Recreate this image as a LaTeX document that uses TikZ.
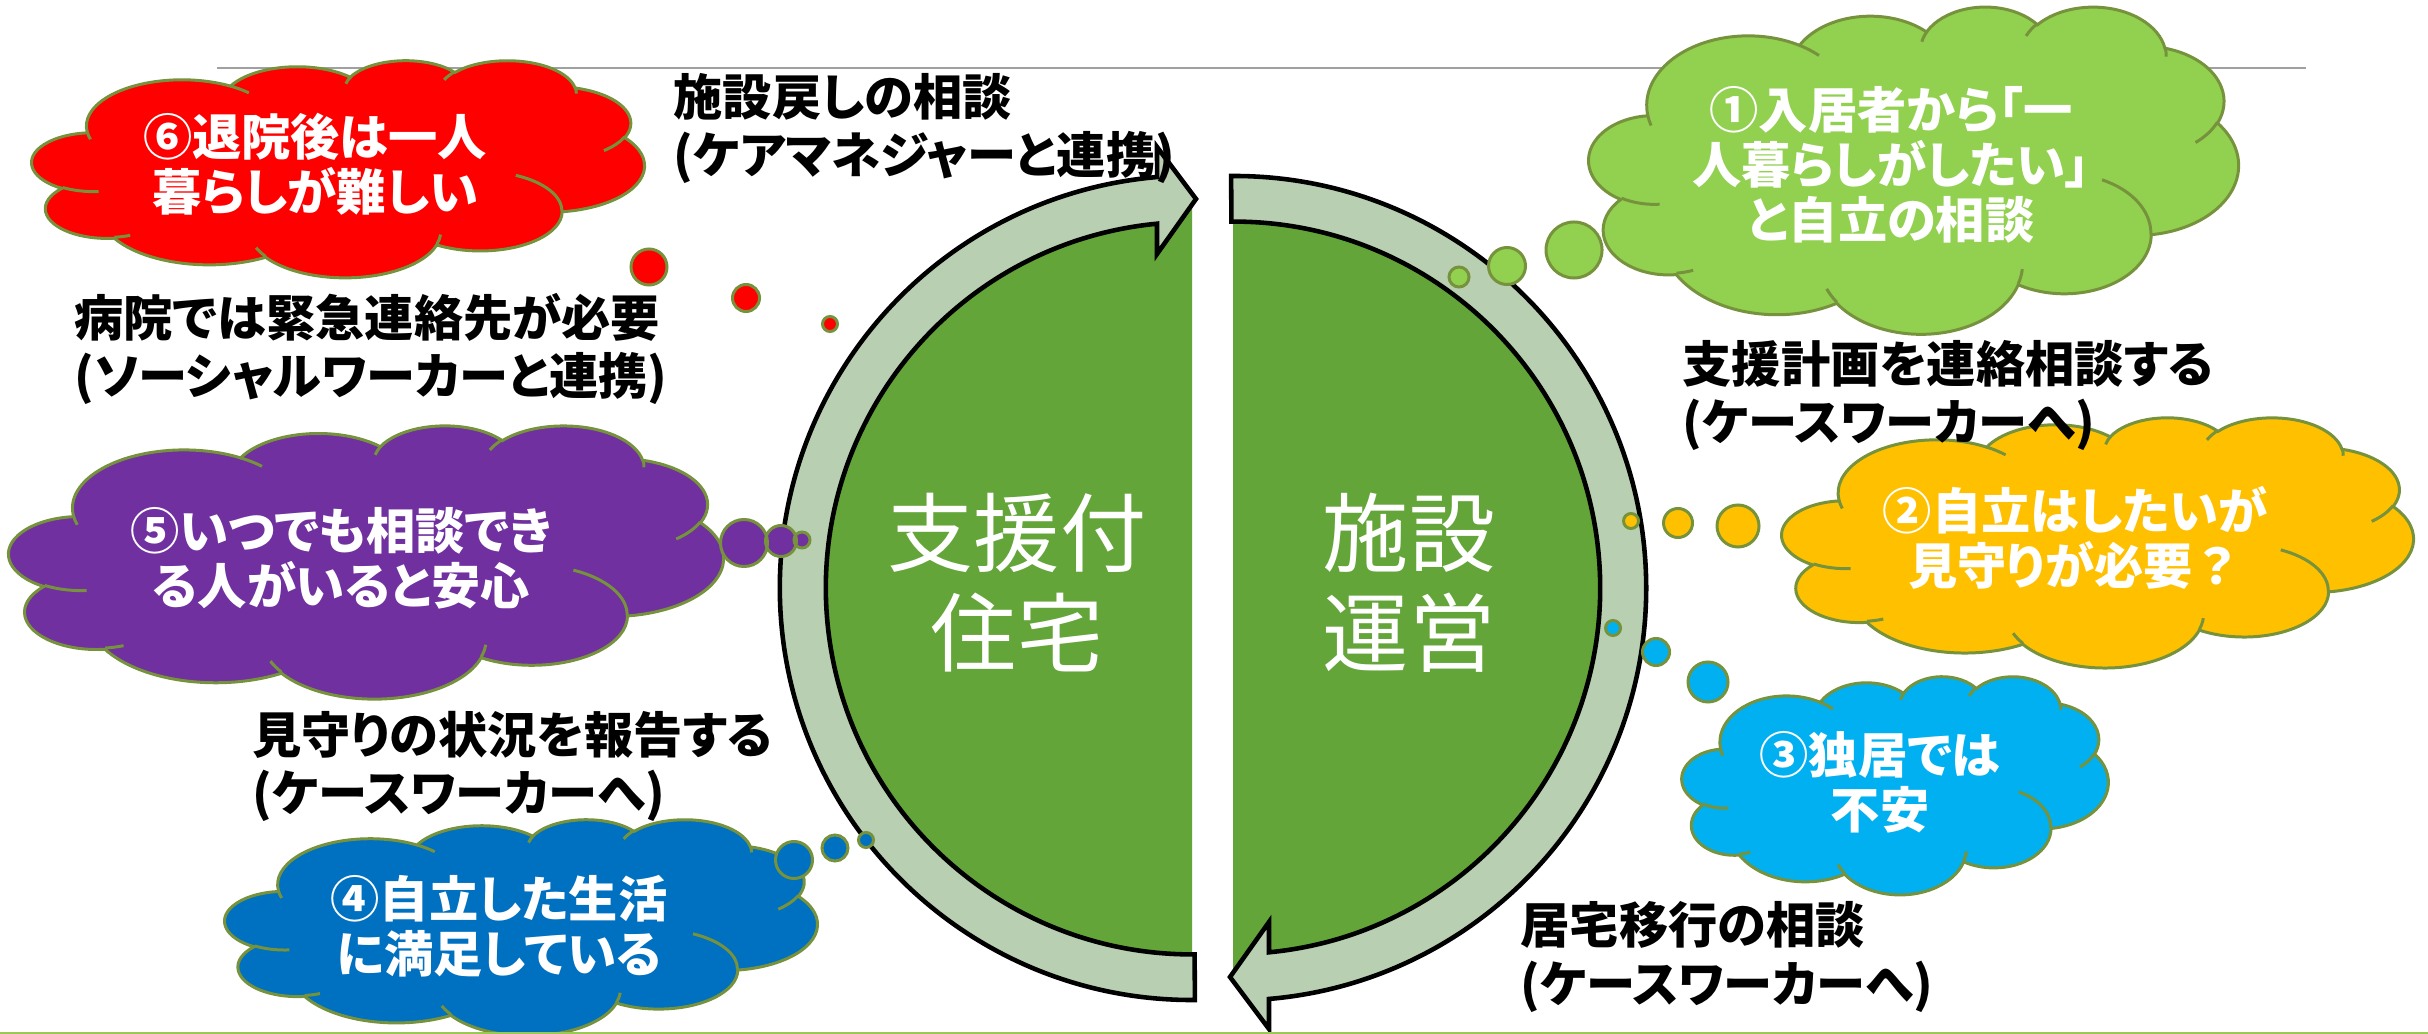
\documentclass[tikz,border=0pt]{standalone}
\usepackage{fontspec}
\usepackage{tikz}
\newfontfamily\jp[RawFeature=+palt]{Noto Sans CJK JP}
\definecolor{hubgreen}{RGB}{99,165,56}
\definecolor{bandgreen}{RGB}{184,207,177}
\definecolor{olive}{RGB}{118,146,60}
\definecolor{leafgreen}{RGB}{146,208,80}
\definecolor{amber}{RGB}{255,192,0}
\definecolor{skyblue}{RGB}{0,176,240}
\definecolor{royalblue}{RGB}{0,112,192}
\definecolor{plum}{RGB}{112,48,160}
\definecolor{rulegray}{RGB}{160,160,160}
\definecolor{rulegreen}{RGB}{155,200,85}
% parametric angle of a DrawingML arc point
\newcommand{\tAng}[3]{atan2((#1)*sin(#3),(#2)*cos(#3))+360*round(((#3)-atan2((#1)*sin(#3),(#2)*cos(#3)))/360)}
\newcommand{\bubbleArc}[4]{arc[start angle={\tAng{#1}{#2}{#3}},end angle={\tAng{#1}{#2}{(#3)+(#4)}},x radius=#1,y radius=#2]}
% #1 fill, #2 #3 top left, #4 width, #5 height
\newcommand{\thoughtCloud}[5]{
	\begin{scope}[shift={(#2,#3)},x=1cm,y=1cm,xscale=#4/4320,yscale=-#5/4320]
		\draw[cloudline,fill=#1] (3.9,14.37)
		\bubbleArc{6.753}{9.19}{-190.4875}{123.7805}
		\bubbleArc{5.333}{7.267}{-144.1024}{89.9452}
		\bubbleArc{4.365}{5.945}{-145.8079}{99.723}
		\bubbleArc{4.857}{6.595}{-130.9861}{117.2417}
		\bubbleArc{5.333}{7.273}{-78.7089}{109.0269}
		\bubbleArc{6.775}{9.22}{-46.2673}{130.269}
		\bubbleArc{5.785}{7.867}{0.625}{114.0333}
		\bubbleArc{6.752}{9.215}{22.4516}{115.1726}
		\bubbleArc{7.72}{10.543}{66.2426}{75.711}
		\bubbleArc{4.36}{5.918}{-274.9421}{146.7356}
		\bubbleArc{4.345}{5.945}{-246.8285}{152.5189} -- cycle;
		\draw[cloudline]
		(4.693,26.177) \bubbleArc{4.345}{5.945}{86.742}{26.4295}
		(6.928,34.899) \bubbleArc{4.36}{5.918}{73.6105}{11.4475}
		(16.478,39.09) \bubbleArc{6.752}{9.215}{137.6242}{14.0811}
		(28.827,34.751) \bubbleArc{6.752}{9.215}{6.4533}{15.9984}
		(34.129,22.954) \bubbleArc{5.785}{7.867}{-70.2924}{70.9174}
		(41.798,15.354) \bubbleArc{5.333}{7.273}{30.318}{27.7515}
		(38.324,5.426) \bubbleArc{4.857}{6.595}{-13.7443}{14.8589}
		(29.078,3.952) \bubbleArc{4.857}{6.595}{-149.1815}{18.1954}
		(22.141,4.72) \bubbleArc{4.365}{5.945}{-163.4943}{17.6864}
		(14,5.192) \bubbleArc{6.753}{9.19}{-66.707}{12.3194}
		(4.127,15.789) \bubbleArc{6.753}{9.19}{157.6544}{11.8582};
	\end{scope}
}
\newcommand{\bandArrow}[1]{
	\draw[ringband,#1]
	(1194.9,1000) arc[start angle=270.4,end angle=94.87,radius=4.12cm]
	-- (1157,147) -- (1196,199) -- (1157,254) -- (1157,223.7)
	arc[start angle=95.49,end angle=270.4,radius=3.66cm] -- cycle;
}

\begin{document}
\begin{tikzpicture}
		[
			x=0.01cm, y=-0.01cm,
			hub/.style={font={\jp\fontsize{24.5pt}{28.5pt}\selectfont},text=white,align=center,inner sep=0},
			bubtxt/.style={font={\jp\bfseries\fontsize{14pt}{15.6pt}\selectfont},text=white,align=center,inner sep=0},
			lbl/.style={font={\jp\bfseries\fontsize{14pt}{16.5pt}\selectfont},align=left,anchor=west,inner sep=0},
			ringband/.style={draw=black,fill=bandgreen,line width=1.3pt},
			cloudline/.style={draw=olive,line width=0.85pt},
			trail/.style={cloudline,fill=#1},
		]
		\useasboundingbox (0,0) rectangle (2428,1034);
		\fill[white] (0,0) rectangle (2428,1034);
		\draw[rulegray,line width=0.6pt] (217,68) -- (2306,68);
		% two halves
		\fill[hubgreen] (1192,199) arc[start angle=90,end angle=270,radius=3.89cm] -- cycle;
		\fill[hubgreen] (1233,199) arc[start angle=90,end angle=-90,radius=3.89cm] -- cycle;
		\bandArrow{}
		\bandArrow{rotate around={180:(1213,588)}}
		\node[hub] (house) at (1017,583) {支援付\\住宅};
		\node[hub] (ops) at (1409,583) {施設\\運営};
		% thought clouds
		\thoughtCloud{red}{32}{60}{612}{217}
		\thoughtCloud{leafgreen}{1589}{6}{649}{327}
		\thoughtCloud{amber}{1782}{417}{631}{250}
		\thoughtCloud{skyblue}{1682}{676}{426}{218}
		\thoughtCloud{plum}{9}{425}{714}{273}
		\thoughtCloud{royalblue}{225}{819}{592}{216}
		\draw[trail=red] (649,267) circle[radius=.18cm] (746,298) circle[radius=.135cm] (830,324) circle[radius=.075cm];
		\draw[trail=leafgreen] (1574,250) circle[radius=.28cm] (1507,266) circle[radius=.185cm] (1459,277) circle[radius=.1cm];
		\draw[trail=amber] (1738,526) circle[radius=.21cm] (1678,523) circle[radius=.145cm] (1631,521) circle[radius=.075cm];
		\draw[trail=skyblue] (1708,682) circle[radius=.2cm] (1656,652) circle[radius=.135cm] (1613,628) circle[radius=.075cm];
		\draw[trail=plum] (744,543) circle[radius=.235cm] (781,541) circle[radius=.155cm] (802,540) circle[radius=.08cm];
		\draw[trail=royalblue] (794,860) circle[radius=.185cm] (835,848) circle[radius=.13cm] (866,840) circle[radius=.075cm];
		\node[bubtxt] (t6) at (315,164) {⑥退院後は一人\\暮らしが難しい};
		\node[bubtxt] (t1) at (1891,165) {①入居者から「一\\人暮らしがしたい」\\と自立の相談};
		\node[bubtxt] (t2) at (2075,538) {②自立はしたいが\\見守りが必要{\addfontfeature{RawFeature=-palt}？}};
		\node[bubtxt] (t3) at (1880,782) {③独居では\\不安};
		\node[bubtxt] (t5) at (341,558) {⑤いつでも相談でき\\る人がいると安心};
		\node[bubtxt] (t4) at (499,926) {④自立した生活\\に満足している};
		% labels beside the arrows
		\node[lbl] (back) at (673,128.5) {施設戻しの相談\\(ケアマネジャーと連携)};
		\node[lbl] (hosp) at (74,349) {病院では緊急連絡先が必要\\(ソーシャルワーカーと連携)};
		\node[lbl] (plan) at (1682,395.5) {支援計画を連絡相談する\\(ケースワーカーへ)};
		\node[lbl] (watch) at (252,766.5) {見守りの状況を報告する\\(ケースワーカーへ)};
		\node[lbl] (move) at (1520,957) {居宅移行の相談\\(ケースワーカーへ)};
		\draw[rulegreen,line width=0.6pt] (0,1033) -- (2428,1033);
	\end{tikzpicture}
\end{document}
